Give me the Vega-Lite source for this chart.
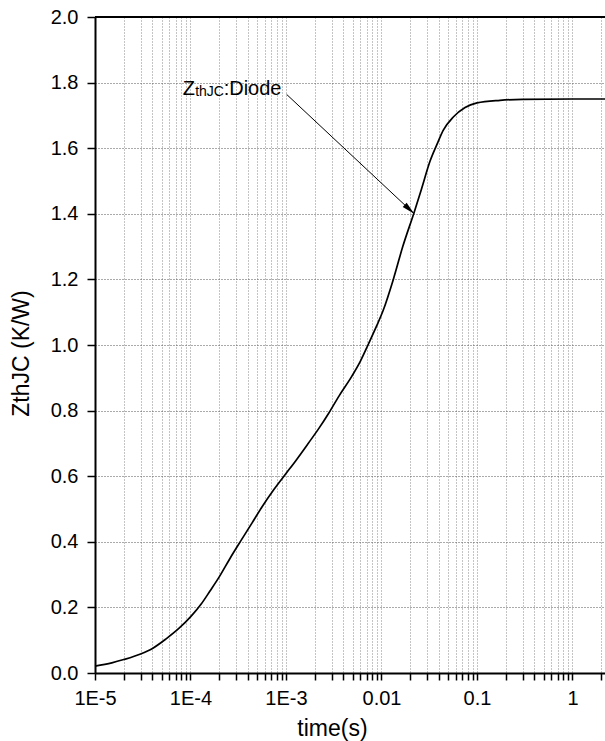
{
  "$schema": "https://vega.github.io/schema/vega-lite/v6.json",
  "width": 510,
  "height": 656,
  "autosize": {"type": "none"},
  "padding": {"left": 95, "top": 17, "right": 0, "bottom": 68},
  "background": "white",
  "config": {
    "view": {"stroke": null},
    "font": "Liberation Sans",
    "axis": {"labelFont": "Liberation Sans", "titleFont": "Liberation Sans", "labelColor": "#000", "titleColor": "#000", "titleFontWeight": "normal", "ticks": true, "tickColor": "#000", "tickWidth": 1.5}
  },
  "datasets": {
    "curve": [
      {"t": 1e-5, "z": 0.021},
      {"t": 1.5e-5, "z": 0.031},
      {"t": 2e-5, "z": 0.041},
      {"t": 3e-5, "z": 0.058},
      {"t": 4e-5, "z": 0.075},
      {"t": 5.6e-5, "z": 0.105},
      {"t": 7.5e-5, "z": 0.135},
      {"t": 1e-4, "z": 0.171},
      {"t": 1.3e-4, "z": 0.211},
      {"t": 1.6e-4, "z": 0.25},
      {"t": 2e-4, "z": 0.293},
      {"t": 2.6e-4, "z": 0.35},
      {"t": 3.4e-4, "z": 0.405},
      {"t": 4.4e-4, "z": 0.457},
      {"t": 5.6e-4, "z": 0.506},
      {"t": 7.5e-4, "z": 0.56},
      {"t": 1e-3, "z": 0.608},
      {"t": 1.3e-3, "z": 0.652},
      {"t": 1.7e-3, "z": 0.699},
      {"t": 2.2e-3, "z": 0.745},
      {"t": 2.8e-3, "z": 0.792},
      {"t": 3.6e-3, "z": 0.845},
      {"t": 4.9e-3, "z": 0.905},
      {"t": 6e-3, "z": 0.95},
      {"t": 7.3e-3, "z": 1.003},
      {"t": 8.8e-3, "z": 1.055},
      {"t": 0.0104, "z": 1.105},
      {"t": 0.0133, "z": 1.2},
      {"t": 0.0167, "z": 1.3},
      {"t": 0.022, "z": 1.405},
      {"t": 0.0262, "z": 1.475},
      {"t": 0.0322, "z": 1.56},
      {"t": 0.0379, "z": 1.61},
      {"t": 0.0444, "z": 1.655},
      {"t": 0.0565, "z": 1.695},
      {"t": 0.075, "z": 1.724},
      {"t": 0.1, "z": 1.738},
      {"t": 0.174, "z": 1.746},
      {"t": 0.3, "z": 1.749},
      {"t": 1, "z": 1.75},
      {"t": 2.19, "z": 1.75}
    ],
    "arrow": [{"t0": 1.016e-3, "z0": 1.764, "t1": 0.022, "z1": 1.4}],
    "label": [{"t": 8.28e-5, "z": 1.761}],
    "border": [{"z": 2}]
  },
  "layer": [
    {
      "data": {"name": "curve"},
      "mark": {"type": "line", "color": "#000", "strokeWidth": 1.7, "interpolate": "monotone"},
      "encoding": {
        "x": {
          "field": "t", "type": "quantitative",
          "scale": {"type": "log", "domain": [1e-5, 2.19], "nice": false},
          "axis": {
            "orient": "bottom",
            "values": [1e-5, 2e-5, 3e-5, 4e-5, 5e-5, 6e-5, 7e-5, 8e-5, 9e-5, 1e-4, 2e-4, 3e-4, 4e-4, 5e-4, 6e-4, 7e-4, 8e-4, 9e-4, 1e-3, 2e-3, 3e-3, 4e-3, 5e-3, 6e-3, 7e-3, 8e-3, 9e-3, 0.01, 0.02, 0.03, 0.04, 0.05, 0.06, 0.07, 0.08, 0.09, 0.1, 0.2, 0.3, 0.4, 0.5, 0.6, 0.7, 0.8, 0.9, 1, 2],
            "labelExpr": "abs(log(datum.value) / LN10 - round(log(datum.value) / LN10)) > 0.001 ? '' : (datum.value >= 0.01 ? format(datum.value, '') : '1E' + round(log(datum.value) / LN10))",
            "labelFontSize": 20, "labelPadding": 8, "labelFlush": false, "labelOverlap": false, "labelBound": false,
            "ticks": true,
            "tickSize": 7,
            "tickWidth": 1.5, "tickColor": "#000",
            "domain": true, "domainColor": "#000", "domainWidth": 2,
            "grid": true,
            "gridColor": "#888",
            "gridDash": [1, 2], "gridWidth": 1,
            "title": "time(s)", "titleFontSize": 23, "titleX": 237, "titleY": 62, "titleBaseline": "alphabetic"
          }
        },
        "y": {
          "field": "z", "type": "quantitative",
          "scale": {"domain": [0, 2], "nice": false},
          "axis": {
            "orient": "left",
            "values": [0, 0.1, 0.2, 0.3, 0.4, 0.5, 0.6, 0.7, 0.8, 0.9, 1.0, 1.1, 1.2, 1.3, 1.4, 1.5, 1.6, 1.7, 1.8, 1.9, 2.0],
            "labelExpr": "round(datum.value * 10) % 2 == 0 ? format(datum.value, '.1f') : ''",
            "labelFontSize": 20, "labelPadding": 9, "labelFlush": false, "labelOverlap": false, "labelBound": false,
            "ticks": true,
            "tickSize": 8,
            "tickWidth": 1.5, "tickColor": "#000",
            "domain": true, "domainColor": "#000", "domainWidth": 2,
            "grid": true,
            "gridColor": "#555",
            "gridDash": [1, 2], "gridWidth": 1,
            "title": "ZthJC (K/W)", "titleFontSize": 23, "titleX": -74, "titleY": 336, "titleBaseline": "middle", "titleAlign": "center", "titleAngle": -90
          }
        }
      }
    },
    {
      "data": {"name": "border"},
      "mark": {"type": "rule", "color": "#000", "strokeWidth": 2},
      "encoding": {
        "y": {"field": "z", "type": "quantitative", "scale": {"domain": [0, 2], "nice": false}}
      }
    },
    {
      "data": {"name": "arrow"},
      "mark": {"type": "rule", "color": "#000", "strokeWidth": 1},
      "encoding": {
        "x": {"field": "t0", "type": "quantitative", "scale": {"type": "log", "domain": [1e-5, 2.19], "nice": false}},
        "y": {"field": "z0", "type": "quantitative", "scale": {"domain": [0, 2], "nice": false}},
        "x2": {"field": "t1"},
        "y2": {"field": "z1"}
      }
    },
    {
      "data": {"name": "arrow"},
      "mark": {"type": "point", "shape": "M0,0L-1,-0.22L-1,0.22Z", "filled": true, "color": "#000", "opacity": 1, "size": 676, "angle": 43},
      "encoding": {
        "x": {"field": "t1", "type": "quantitative", "scale": {"type": "log", "domain": [1e-5, 2.19], "nice": false}},
        "y": {"field": "z1", "type": "quantitative", "scale": {"domain": [0, 2], "nice": false}}
      }
    },
    {
      "data": {"name": "label"},
      "mark": {"type": "text", "text": "Z", "fontSize": 20, "align": "left", "baseline": "alphabetic", "color": "#000", "font": "Liberation Sans"},
      "encoding": {
        "x": {"field": "t", "type": "quantitative", "scale": {"type": "log", "domain": [1e-5, 2.19], "nice": false}},
        "y": {"field": "z", "type": "quantitative", "scale": {"domain": [0, 2], "nice": false}}
      }
    },
    {
      "data": {"name": "label"},
      "mark": {"type": "text", "text": "thJC", "fontSize": 14, "align": "left", "baseline": "alphabetic", "dx": 12.5, "dy": 1, "color": "#000", "font": "Liberation Sans"},
      "encoding": {
        "x": {"field": "t", "type": "quantitative", "scale": {"type": "log", "domain": [1e-5, 2.19], "nice": false}},
        "y": {"field": "z", "type": "quantitative", "scale": {"domain": [0, 2], "nice": false}}
      }
    },
    {
      "data": {"name": "label"},
      "mark": {"type": "text", "text": ":Diode", "fontSize": 20, "align": "left", "baseline": "alphabetic", "dx": 41, "color": "#000", "font": "Liberation Sans"},
      "encoding": {
        "x": {"field": "t", "type": "quantitative", "scale": {"type": "log", "domain": [1e-5, 2.19], "nice": false}},
        "y": {"field": "z", "type": "quantitative", "scale": {"domain": [0, 2], "nice": false}}
      }
    }
  ]
}
